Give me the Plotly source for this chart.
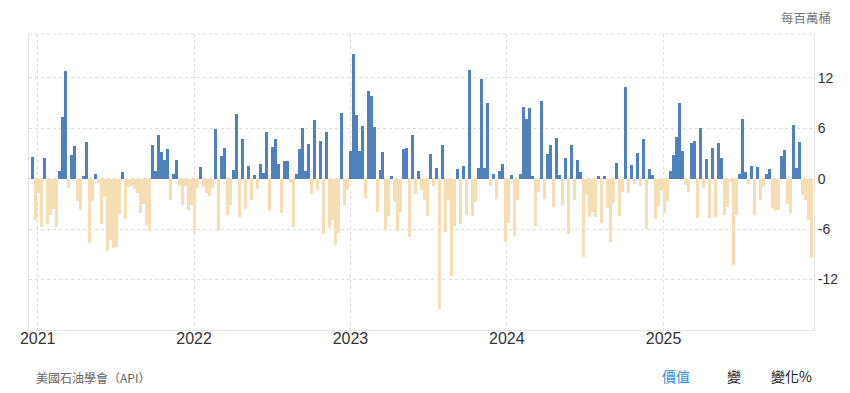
import pandas as pd
import plotly.graph_objects as go

# Weekly API crude inventory change (million barrels)
start_date = "2020-12-19"

vals_2021 = [2.6, -4.9, -1.7, -5.8, 2.5, -5.4, -4.3, -3.6, -5.8, 0.9,
             7.3, 12.8, -1.1, 2.8, 3.9, -2.6, -3.7, 0.3, 4.3, -7.7,
             -2.6, 0.5, -0.5, -5.4, -2.2, -8.6, -7.3, -8.2, -8.1, -4.2,
             0.8, -4.8, -1.0, -0.9, -1.2, -1.7, -4.1, -3.0, -5.5, -6.2,
             4.0, 0.9, 5.2, 3.2, 2.2, 3.5, -2.5, 0.55, 2.2, -0.9,
             -3.1, -0.9, -3.7, -3.1]
vals_2022 = [-6.5, -1.1, 1.4, -1.0, -1.7, -2.1, -1.1, 5.9, -6.2, 2.7,
             3.65, -4.3, -3.1, 1.0, 7.7, -4.6, 4.7, -3.6, 1.5, -2.5,
             0.45, -1.2, 1.75, 0.7, 5.55, -3.85, 3.8, 4.7, 1.75, -4.1,
             2.1, 2.1, -0.5, -5.75, 0.55, 3.5, 6.0, 0.9, 4.1, -1.8,
             7.0, -1.35, 4.5, -6.6, 5.55, -5.9, -4.9, -7.9, -6.5, 7.8,
             -3.1, -1.35]
vals_2023 = [3.3, 14.8, 7.6, 3.3, 6.3, -2.3, 10.4, 9.8, 6.15, -4.0,
             1.0, 3.2, -6.1, -4.4, 0.3, -2.8, -6.2, -4.0, 3.5, 3.65,
             -6.95, 5.2, -1.8, 0.9, -1.35, -2.5, -4.45, 2.95, -0.9, 1.25,
             -15.5, 4.0, -6.35, -2.5, -11.6, -5.6, 1.15, -5.4, 1.5, -4.3,
             12.9, -4.45, -2.8, 1.25, 11.9, 1.25, 9.0, -0.9, 0.55, -2.4,
             0.9, 1.75]
vals_2024 = [-7.5, -5.3, 0.45, -6.8, -2.5, 0.55, 8.5, 7.1, 8.4, 0.3,
             -5.6, -1.6, 9.25, -2.4, 2.95, 4.0, -3.4, 4.85, 0.45, -3.1,
             2.45, -6.6, 4.0, -2.5, 2.2, 0.8, -9.3, -1.95, -4.6, -4.0,
             -4.6, 0.3, -5.3, 0.3, -3.5, -7.5, -2.9, 1.85, -4.45, -1.6,
             10.9, -1.7, 1.6, -0.65, 3.05, -0.9, 4.7, -6.0, 1.15, 0.45,
             -4.8, -3.25]
vals_2025 = [-1.45, -4.1, -2.65, 0.9, 2.8, 4.95, 9.0, 3.3, -0.75, -1.6,
             4.25, 4.5, -4.7, 6.0, -1.1, 2.35, -4.7, 3.65, -4.6, 4.25,
             2.45, -4.3, -3.4, -0.4, -10.3, -4.3, 0.55, 7.1, 0.8, -0.65,
             1.5, -4.3, 1.4, -2.5, -1.0, 0.55, 1.15, -3.5, -3.85, -3.7,
             2.7, 3.4, -3.0, -4.1, 6.4, 1.25, 4.35, -1.95, -2.5, -4.9,
             -9.45]

values = vals_2021 + vals_2022 + vals_2023 + vals_2024 + vals_2025
dates = pd.date_range(start=start_date, periods=len(values), freq="7D")

year_ticks = ["2021-01-01", "2022-01-01", "2023-01-01", "2024-01-01", "2025-01-01"]
year_labels = ["2021", "2022", "2023", "2024", "2025"]
y_ticks = [-12, -6, 0, 6, 12]
y_labels = ["-12", "-6", "0", "6", "12"]

POS = "#4f81bd"
NEG = "#f5deb3"
colors = [POS if v >= 0 else NEG for v in values]

fig = go.Figure(go.Bar(
    x=dates, y=values,
    marker=dict(color=colors, line=dict(width=0)),
    hoverinfo="x+y",
))

grid = "#dedede"
fig.update_layout(
    width=842, height=385,
    margin=dict(l=14, r=34, t=26, b=63),
    paper_bgcolor="white", plot_bgcolor="white",
    bargap=0, showlegend=False,
    font=dict(family="Liberation Sans, Arial, sans-serif", color="#333"),
    xaxis=dict(
        type="date",
        range=["2020-12-11 18:00", "2025-12-18"],
        tickvals=year_ticks, ticktext=year_labels,
        tickfont=dict(size=16, color="#333"),
        showgrid=True, gridcolor=grid, griddash="dot", gridwidth=1,
        showline=True, linecolor="#e4e4e4", linewidth=1,
        ticks="", zeroline=False, ticklabelstandoff=-6,
    ),
    yaxis=dict(
        side="right",
        range=[-18, 17.2],
        tickvals=y_ticks, ticktext=y_labels,
        tickfont=dict(size=14, color="#333"),
        showgrid=True, gridcolor=grid, griddash="dot", gridwidth=1,
        showline=True, mirror=True, linecolor="#e4e4e4", linewidth=1,
        ticks="", zeroline=False,
    ),
    shapes=[dict(type="line", xref="paper", yref="paper", x0=0, x1=1, y0=1, y1=1,
                 line=dict(color=grid, width=1, dash="dot"))],
)

cjk = "Noto Sans CJK TC, Liberation Sans, sans-serif"
fig.add_annotation(text="每百萬桶", xref="paper", yref="paper", x=1.023, y=1.056,
                   xanchor="right", yanchor="middle", showarrow=False, borderpad=0,
                   font=dict(family=cjk, size=12.5, color="#777"))
fig.add_annotation(text="美國石油學會（API）", xref="paper", yref="paper", x=0.007, y=-0.16,
                   xanchor="left", yanchor="middle", showarrow=False,
                   font=dict(family=cjk, size=12, color="#666"))
fig.add_annotation(text="價值", xref="paper", yref="paper", x=(676 - 22) / 794, y=-0.155,
                   xanchor="center", yanchor="middle", showarrow=False,
                   font=dict(family=cjk, size=14, color="#2f8fe0"))
fig.add_annotation(text="變", xref="paper", yref="paper", x=(735 - 22) / 794, y=-0.155,
                   xanchor="center", yanchor="middle", showarrow=False,
                   font=dict(family=cjk, size=14, color="#222"))
fig.add_annotation(text="變化%", xref="paper", yref="paper", x=(793 - 22) / 794, y=-0.155,
                   xanchor="center", yanchor="middle", showarrow=False,
                   font=dict(family=cjk, size=14, color="#222"))

fig.write_html("out.html")
